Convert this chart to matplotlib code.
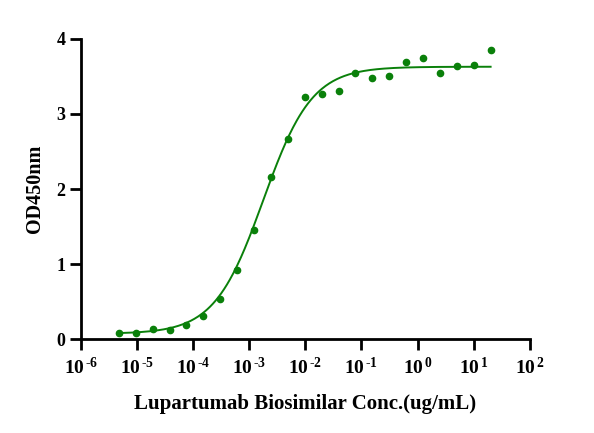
import numpy as np
import matplotlib
matplotlib.use("Agg")
import matplotlib.pyplot as plt
from matplotlib.ticker import FixedLocator, FixedFormatter, NullLocator

# ---- data ----
conc = [20 / 2 ** k for k in range(22, -1, -1)]  # 2-fold serial dilution from 20 ug/mL
od450 = [0.08, 0.085, 0.13, 0.12, 0.19, 0.31, 0.53, 0.92, 1.45, 2.16, 2.66,
         3.23, 3.27, 3.30, 3.54, 3.48, 3.51, 3.69, 3.75, 3.54, 3.64, 3.65, 3.85]

# 4-parameter logistic fit parameters (estimated from the drawn curve)
fit_bottom = 0.07
fit_top = 3.63
fit_log_ec50 = -2.75
fit_hill = 1.0

xtick_exps = [-6, -5, -4, -3, -2, -1, 0, 1, 2]
ytick_vals = [0, 1, 2, 3, 4]
xlabel = "Lupartumab Biosimilar Conc.(ug/mL)"
ylabel = "OD450nm"

green = "#0a800a"

plt.rcParams["font.family"] = "Liberation Serif"
plt.rcParams["font.weight"] = "bold"
plt.rcParams["mathtext.fontset"] = "custom"
plt.rcParams["mathtext.rm"] = "Liberation Serif:bold"
plt.rcParams["mathtext.bf"] = "Liberation Serif:bold"
plt.rcParams["mathtext.it"] = "Liberation Serif:bold:italic"

fig = plt.figure(figsize=(5.94, 4.33), dpi=100)
ax = fig.add_axes([0.136, 0.217, 0.756, 0.693])

xs = np.logspace(np.log10(min(conc)), np.log10(max(conc)), 400)
ys = fit_bottom + (fit_top - fit_bottom) / (1 + 10 ** ((fit_log_ec50 - np.log10(xs)) * fit_hill))
ax.plot(xs, ys, color=green, lw=1.4, zorder=2)
ax.plot(conc, od450, "o", color=green, ms=4.5, mec=green, zorder=3, clip_on=False)

ax.set_xscale("log")
ax.set_xlim(1e-6, 1e2)
ax.set_ylim(0, 4)

ax.xaxis.set_major_locator(FixedLocator([10.0 ** e for e in xtick_exps]))
ax.xaxis.set_major_formatter(FixedFormatter([r"$10^{\,\text{%d}}$" % e for e in xtick_exps]))
ax.xaxis.set_minor_locator(NullLocator())
ax.set_yticks(ytick_vals)
ax.set_yticklabels([str(v) for v in ytick_vals])

for s in ["top", "right"]:
    ax.spines[s].set_visible(False)
for s in ["left", "bottom"]:
    ax.spines[s].set_linewidth(2.0)

ax.tick_params(axis="both", which="major", direction="out", length=8, width=2.0,
               labelsize=13, pad=3)
ax.tick_params(axis="x", labelsize=14, pad=5)
for lab in ax.get_xticklabels() + ax.get_yticklabels():
    lab.set_fontweight("bold")

ax.set_xlabel(xlabel, fontsize=15, fontweight="bold", labelpad=11)
ax.set_ylabel(ylabel, fontsize=14.5, fontweight="bold", labelpad=8)

fig.savefig("out.png", dpi=100)
